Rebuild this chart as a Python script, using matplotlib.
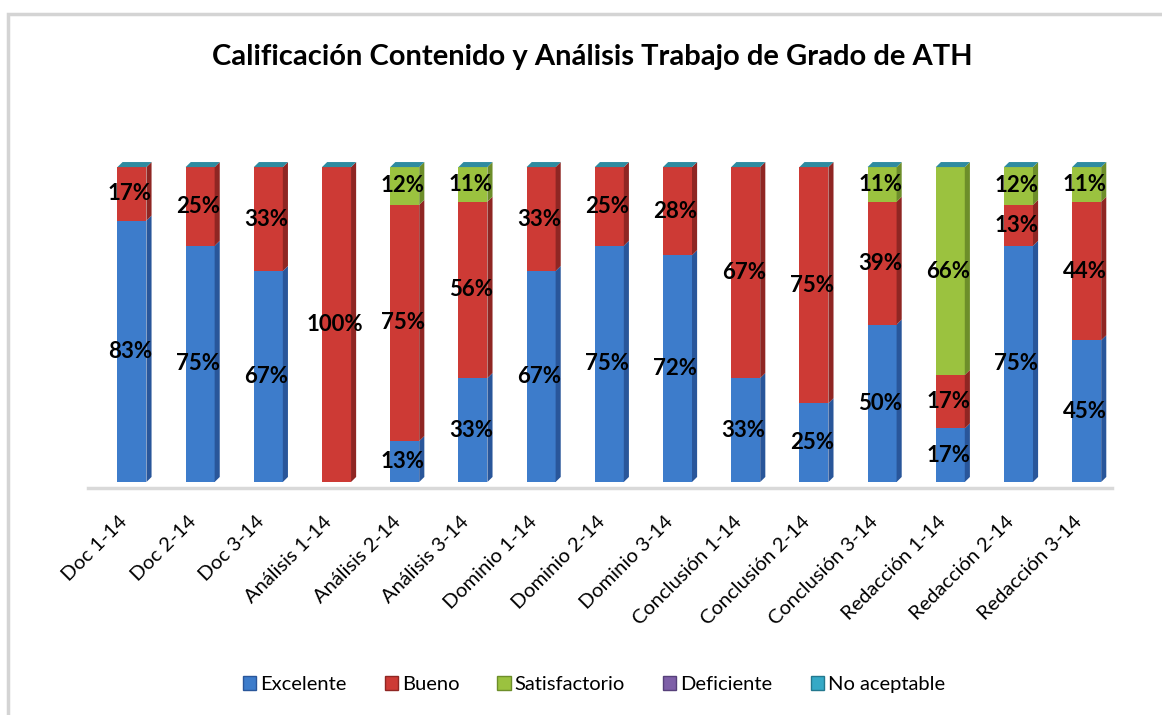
import matplotlib
matplotlib.use("Agg")
import matplotlib.pyplot as plt
from matplotlib.patches import Polygon, Patch, Rectangle
from matplotlib.transforms import ScaledTranslation
import numpy as np

plt.rcParams["font.family"] = ["Lato", "DejaVu Sans"]

categories = ["Doc 1-14", "Doc 2-14", "Doc 3-14", "Análisis 1-14", "Análisis 2-14",
              "Análisis 3-14", "Dominio 1-14", "Dominio 2-14", "Dominio 3-14",
              "Conclusión 1-14", "Conclusión 2-14", "Conclusión 3-14",
              "Redacción 1-14", "Redacción 2-14", "Redacción 3-14"]
excelente = [83, 75, 67, 0, 13, 33, 67, 75, 72, 33, 25, 50, 17, 75, 45]
bueno = [17, 25, 33, 100, 75, 56, 33, 25, 28, 67, 75, 39, 17, 13, 44]
satisfactorio = [0, 0, 0, 0, 12, 11, 0, 0, 0, 0, 0, 11, 66, 12, 11]
deficiente = [0] * 15
no_aceptable = [0] * 15

series_names = ["Excelente", "Bueno", "Satisfactorio", "Deficiente", "No aceptable"]
front_colors = ["#3D7CCB", "#CD3A35", "#9BC23F", "#7E5FA8", "#35A9C6"]
side_colors = ["#29569A", "#8F2623", "#6D8E2A", "#56407A", "#23788E"]
top_color = "#2E8BA0"

fig = plt.figure(figsize=(11.62, 7.15), dpi=100)
ax = fig.add_axes([0.0757, 0.3175, 0.8812, 0.4867])

# light chart-area border
fig.patches.append(Rectangle((8 / 1162, -0.05), 1.2, 1 - 14 / 715 + 0.05,
                             transform=fig.transFigure, fill=False,
                             edgecolor="#D4D4D4", lw=2.5))

data = np.array([excelente, bueno, satisfactorio, deficiente, no_aceptable], dtype=float)
totals = data.sum(axis=0)
pct = data / totals * 100

x = np.arange(len(categories))
w = 0.425
dx, dy = 0.075, 1.6
bottom = np.zeros(len(categories))
for k, name in enumerate(series_names):
    vals = pct[k]
    ax.bar(x, vals, w, bottom=bottom, color=front_colors[k], edgecolor="none", zorder=2)
    for i in range(len(x)):
        if vals[i] <= 0:
            continue
        xr = x[i] + w / 2
        ax.add_patch(Polygon([(xr, bottom[i]), (xr + dx, bottom[i] + dy),
                              (xr + dx, bottom[i] + vals[i] + dy), (xr, bottom[i] + vals[i])],
                             closed=True, facecolor=side_colors[k], edgecolor="none", zorder=2))
        ax.text(x[i] - 0.03, bottom[i] + vals[i] / 2, f"{data[k][i]:.0f}%", ha="center", va="center",
                fontsize=16, fontweight="bold", color="black", zorder=4)
    bottom = bottom + vals

# top caps
for i in range(len(x)):
    xl, xr = x[i] - w / 2, x[i] + w / 2
    yt = bottom[i]
    ax.add_patch(Polygon([(xl, yt), (xl + dx, yt + dy), (xr + dx, yt + dy), (xr, yt)],
                         closed=True, facecolor=top_color, edgecolor="none", zorder=3))

ax.set_xlim(-0.645, 14.37)
ax.set_ylim(-1.9, 108.6)
for s in ["top", "right", "left"]:
    ax.spines[s].set_visible(False)
ax.spines["bottom"].set_color("#D9D9D9")
ax.spines["bottom"].set_linewidth(2.5)
ax.set_yticks([])
ax.set_xticks(x)
ax.set_xticklabels(categories, rotation=45, ha="right", rotation_mode="anchor", fontsize=14.5)
ax.tick_params(axis="x", length=0, pad=18)
shift = ScaledTranslation(-13 / 100, 0, fig.dpi_scale_trans)
for lbl in ax.get_xticklabels():
    lbl.set_transform(lbl.get_transform() + shift)

fig.text(0.51, 0.92, "Calificación Contenido y Análisis Trabajo de Grado de ATH",
         ha="center", va="center", fontsize=21, fontweight="bold")

handles = [Patch(facecolor=c, edgecolor=s) for c, s in zip(front_colors, side_colors)]
fig.legend(handles, series_names, loc="center", bbox_to_anchor=(0.511, 0.043), ncol=5,
           frameon=False, fontsize=14.5, handlelength=0.65, handleheight=0.7,
           handletextpad=0.2, columnspacing=1.9)

fig.savefig("out.png", dpi=100)
